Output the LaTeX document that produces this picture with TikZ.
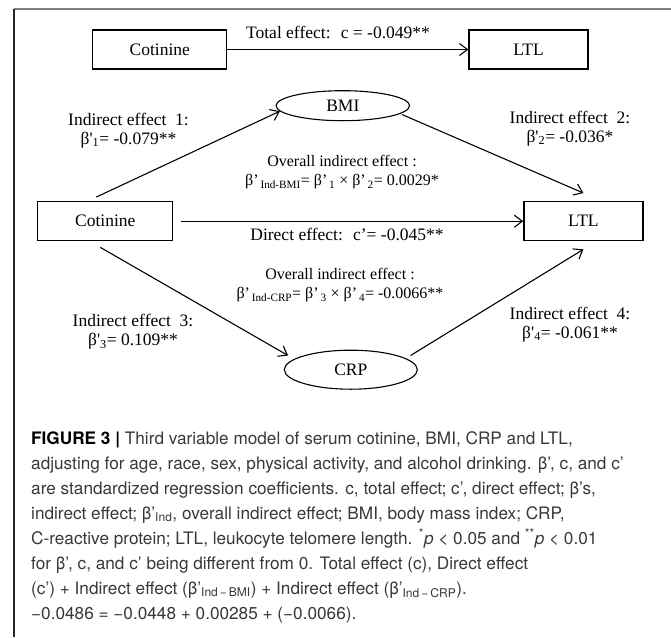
\documentclass[tikz,border=0pt]{standalone}
\usepackage{fontspec}
\setmainfont{Liberation Serif}
\newfontfamily\capfont{TeX Gyre Heros}
\usetikzlibrary{arrows.meta,shapes.geometric}

\begin{document}
\begin{tikzpicture}[x=1pt,y=-1pt,
		every node/.style={font=\fontsize{17.5}{19}\selectfont},
		box/.style={draw,line width=1.3pt,minimum height=39pt,inner sep=0pt},
		oval/.style={draw,ellipse,line width=1.1pt,inner sep=0pt},
		arr/.style={line width=1.1pt,-{Straight Barb[length=8pt,width=12pt]}},
		lbl/.style={align=center},
		small/.style={align=center,font=\fontsize{16}{19}\selectfont},
		captxt/.style={anchor=base west,inner sep=0pt,text=black!78,font=\capfont\fontsize{17.2}{25}\selectfont}]
		\useasboundingbox (0,0) rectangle (671,637);
		% frame
		\draw[black!50,line width=1.2pt] (14,9) -- (671,9);
		\draw[black!85,line width=1.2pt] (14,9) -- (14,637);
		% total effect
		\node[box,minimum width=134pt] (cottop) at (159.8,49.5) {Cotinine};
		\node[box,minimum width=119pt] (ltltop) at (528.5,49.5) {LTL};
		\draw[arr] (cottop) -- (ltltop);
		\node[anchor=base] (total) at (338,38) {Total effect:~ c = -0.049**};
		% mediation model
		\node[box,minimum width=135pt] (cot) at (105.3,221.2) {Cotinine};
		\node[box,minimum width=119pt] (ltl) at (583.4,221.2) {LTL};
		\node[oval,minimum width=133.5pt,minimum height=30pt] (bmi) at (342.8,105.7) {BMI};
		\node[oval,minimum width=133pt,minimum height=39pt] (crp) at (350.8,369.7) {CRP};
		\draw[arr] ([shift={(-9pt,4pt)}]cot.north) -- (bmi.185);
		\draw[arr,shorten <=2pt] (bmi.-8) -- ([yshift=8pt]ltl.north);
		\draw[arr] ([xshift=8pt]cot.east) -- (ltl);
		\draw[arr] ([shift={(-5pt,-6pt)}]cot.south) -- ([shift={(-5pt,4pt)}]crp.170);
		\draw[arr] ([shift={(2pt,4pt)}]crp.10) -- ([yshift=-8pt]ltl.south);
		% labels
		\node[lbl] (ind1) at (128.5,130.5) {Indirect effect~ 1:\\β\textquotesingle\textsubscript{1}= -0.079**};
		\node[lbl] (ind2) at (570,128.5) {Indirect effect~ 2:\\β\textquotesingle\textsubscript{2}= -0.036*};
		\node[lbl] (ind3) at (133,332) {Indirect effect~ 3:\\β\textquotesingle\textsubscript{3}= 0.109**};
		\node[lbl] (ind4) at (570,324.5) {Indirect effect~ 4:\\β\textquotesingle\textsubscript{4}= -0.061**};
		\node[small] (ovbmi) at (342,172) {Overall indirect effect :\\β’\textsubscript{\,Ind-BMI}= β’\textsubscript{\,1} × β’\textsubscript{\,2}= 0.0029*};
		\node[small] (ovcrp) at (340,285.5) {Overall indirect effect :\\β’\textsubscript{\,Ind-CRP}= β’\textsubscript{\,3} × β’\textsubscript{\,4}= -0.0066**};
		\node[anchor=base] (direct) at (347,240) {Direct effect:~ c’= -0.045**};
		% caption
		\foreach \y/\txt [count=\i] in {
			444/{\textbf{\color{black}FIGURE 3 |} Third variable model of serum cotinine, BMI, CRP and LTL,},
			469/{adjusting for age, race, sex, physical activity, and alcohol drinking. β’, c, and c’},
			494/{are standardized regression coefficients. c, total effect; c’, direct effect; β’s,},
			519/{indirect effect; β’\textsubscript{Ind}, overall indirect effect; BMI, body mass index; CRP,},
			544/{C-reactive protein; LTL, leukocyte telomere length. \textsuperscript{*}\textit{p} < 0.05 and \textsuperscript{**}\textit{p} < 0.01},
			569/{for β’, c, and c’ being different from 0. Total effect (c), Direct effect},
			594/{(c’) + Indirect effect (β’\textsubscript{Ind\,−\,BMI}) + Indirect effect (β’\textsubscript{Ind\,−\,CRP}).},
			619/{−0.0486 = −0.0448 + 0.00285 + (−0.0066).}}
			\node[captxt] (cap\i) at (31,\y) {\txt};
	\end{tikzpicture}
\end{document}
